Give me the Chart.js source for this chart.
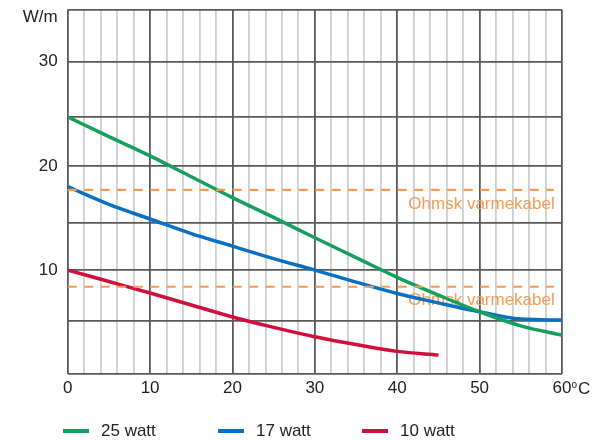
<!DOCTYPE html>
<html>
<head>
<meta charset="utf-8">
<script src="https://cdn.jsdelivr.net/npm/chart.js@4.4.1/dist/chart.umd.min.js"></script>
<style>
  html, body { margin: 0; padding: 0; background: #fff; }
  #wrap { width: 606px; height: 440px; position: relative; }
</style>
</head>
<body>
<div id="wrap"><canvas id="chart"></canvas></div>
<script>
// temperatur (°C) og effekt (W/m) aflæst fra kurverne
const temps = [0, 5, 10, 15, 20, 25, 30, 35, 40, 45, 50, 55, 60];
const watt25 = [24.7, 22.8, 20.95, 18.95, 16.95, 15.05, 13.1, 11.2, 9.3, 7.6, 6.0, 4.65, 3.75];
const watt17 = [18.0, 16.3, 14.9, 13.5, 12.3, 11.1, 10.0, 8.85, 7.75, 6.85, 6.0, 5.3, 5.2];
const watt10 = [10.0, 8.9, 7.8, 6.65, 5.5, 4.5, 3.6, 2.85, 2.2, 1.85];

const seriesNames = ['25 watt', '17 watt', '10 watt'];
const seriesColors = ['#169f5e', '#0a70c2', '#d20f3a'];

// ohmsk varmekabel - stiplede niveauer
const ohmskLevels = [17.7, 8.4];
const ohmskRange = [0, 59];
const ohmskLabel = 'Ohmsk varmekabel';
const orange = '#f29d52';

// gitter / akser
const yGridValues = [0, 5.1, 10, 14.5, 20, 24.7, 30, 35];
const yLabelValues = [10, 20, 30];
const xMax = 60;

const FONT = '"Liberation Sans", Arial, Helvetica, sans-serif';
const DARK = '#5a5a5a';
const LIGHT = '#cfcfcf';

const pts = (xs, ys) => ys.map((v, i) => ({ x: xs[i], y: v }));

const datasets = [watt25, watt17, watt10].map((d, i) => ({
  label: seriesNames[i],
  data: pts(temps, d),
  borderColor: seriesColors[i],
  backgroundColor: seriesColors[i],
  borderWidth: 3.5,
  pointRadius: 0,
  cubicInterpolationMode: 'monotone',
  fill: false
}));

ohmskLevels.forEach(lv => {
  datasets.unshift({
    label: '',
    data: ohmskRange.map(x => ({ x, y: lv })),
    borderColor: orange,
    borderWidth: 2.2,
    borderDash: [9, 7.5],
    pointRadius: 0,
    fill: false
  });
});

const extraText = {
  id: 'extraText',
  beforeDatasetsDraw(chart) {
    const { ctx, scales: { x, y } } = chart;
    ctx.save();
    ctx.font = '17px ' + FONT;
    ctx.fillStyle = orange;
    ctx.textAlign = 'right';
    ctx.textBaseline = 'middle';
    ohmskLevels.forEach(lv => {
      ctx.fillText(ohmskLabel, x.getPixelForValue(ohmskRange[1]) + 1, y.getPixelForValue(lv) + 14);
    });
    ctx.restore();
  },
  afterDraw(chart) {
    const { ctx, scales: { x, y } } = chart;
    ctx.save();
    ctx.fillStyle = '#222';
    ctx.textBaseline = 'middle';

    // enhed på y-aksen
    ctx.font = '17px ' + FONT;
    ctx.textAlign = 'right';
    ctx.fillText('W/m', x.left - 10, 17);

    // °C efter sidste x-label
    ctx.textAlign = 'left';
    const xe = x.getPixelForValue(xMax) + 9.5;
    ctx.font = '10px ' + FONT;
    ctx.fillText('o', xe, 385);
    ctx.font = '17px ' + FONT;
    ctx.fillText('C', xe + 6.5, 389);

    // forklaring
    const legendX = [63, 218, 362];
    const ly = 431;
    chart.data.datasets.filter(ds => ds.label).forEach((ds, i) => {
      ctx.fillStyle = ds.borderColor;
      ctx.fillRect(legendX[i], ly - 2, 26, 4);
      ctx.fillStyle = '#222';
      ctx.fillText(ds.label, legendX[i] + 38, ly);
    });
    ctx.restore();
  }
};

new Chart(document.getElementById('chart'), {
  type: 'line',
  data: { datasets },
  options: {
    responsive: true,
    maintainAspectRatio: false,
    animation: false,
    layout: { padding: { top: 9.5, right: 44, bottom: 0, left: 0 } },
    plugins: { legend: { display: false }, tooltip: { enabled: false } },
    scales: {
      x: {
        type: 'linear',
        min: 0,
        max: xMax,
        afterFit: s => { s.height = 440 - 374.3; },
        border: { display: false },
        grid: {
          drawTicks: false,
          lineWidth: 1.8,
          color: c => (c.tick && c.tick.value % 10 === 0) ? DARK : LIGHT
        },
        ticks: {
          stepSize: 2,
          autoSkip: false,
          maxRotation: 0,
          padding: 4,
          color: '#222',
          font: { family: FONT, size: 17 },
          callback: v => v % 10 === 0 ? String(v) : ''
        }
      },
      y: {
        type: 'linear',
        min: 0,
        max: 35,
        afterFit: s => { s.width = 67.7; s.paddingTop = 0; s.paddingBottom = 0; },
        afterBuildTicks: s => { s.ticks = yGridValues.map(v => ({ value: v })); },
        border: { display: false },
        grid: { drawTicks: false, lineWidth: 1.8, color: DARK },
        ticks: {
          autoSkip: false,
          padding: 10,
          color: '#222',
          font: { family: FONT, size: 17 },
          callback: v => yLabelValues.includes(v) ? String(v) : ''
        }
      }
    }
  },
  plugins: [extraText]
});
</script>
</body>
</html>
